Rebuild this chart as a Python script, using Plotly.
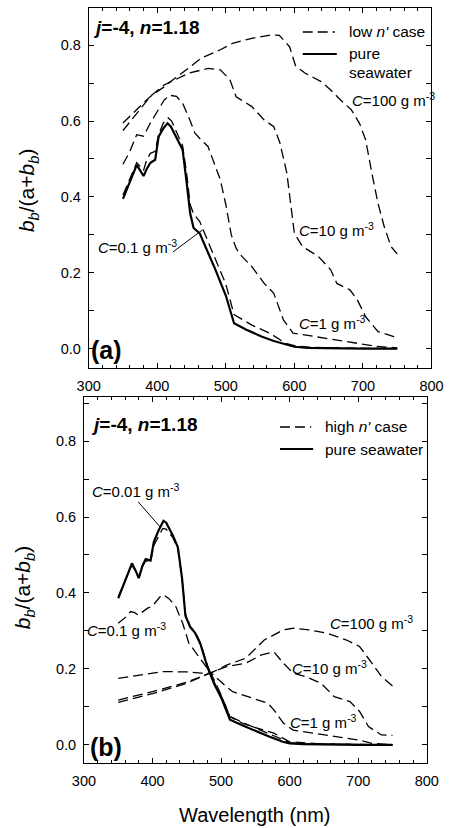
import plotly.graph_objects as go

# ---------------- data: panel (a) low n' case ----------------
a_sw_wl = [350,360,370,375,380,385,390,397,402,409,415,420,430,437,443,448,453,462,470,483,500,512,530,552,570,590,600,620,650,700,750]
a_sw_v  = [0.395,0.44,0.484,0.47,0.455,0.475,0.49,0.498,0.559,0.581,0.594,0.585,0.55,0.524,0.436,0.357,0.318,0.304,0.27,0.216,0.14,0.067,0.05,0.032,0.02,0.01,0.005,0.002,0.001,0.0,0.0]

a_c01_wl = [350,360,370,375,380,385,390,397,402,409,416,421,430,437,443,448,453,462,470,483,500,512,538,565,587,600,620,650,700,750]
a_c01_v  = [0.405,0.45,0.49,0.48,0.47,0.50,0.515,0.52,0.565,0.595,0.608,0.6,0.565,0.535,0.46,0.38,0.355,0.335,0.3,0.245,0.17,0.09,0.062,0.04,0.014,0.008,0.004,0.002,0.001,0.0]

a_c1_wl = [350,360,370,380,390,400,410,418,428,437,446,455,464,474,483,492,500,508,515,520,538,556,570,584,598,620,648,675,695,720,750]
a_c1_v  = [0.486,0.52,0.564,0.56,0.595,0.625,0.655,0.668,0.665,0.647,0.61,0.568,0.55,0.533,0.49,0.445,0.38,0.3,0.265,0.25,0.216,0.172,0.146,0.076,0.041,0.035,0.027,0.02,0.014,0.006,0.002]

a_c10_wl = [350,370,390,410,420,446,474,492,506,515,538,556,570,579,589,596,600,612,635,653,662,681,692,704,722,745,750]
a_c10_v  = [0.575,0.62,0.665,0.695,0.704,0.726,0.739,0.735,0.709,0.664,0.638,0.603,0.585,0.542,0.463,0.357,0.304,0.269,0.243,0.208,0.172,0.155,0.128,0.084,0.045,0.032,0.03]

a_c100_wl = [350,370,390,410,420,446,464,492,510,538,566,578,593,602,616,639,653,667,683,695,704,713,722,731,741,750]
a_c100_v  = [0.595,0.63,0.665,0.69,0.705,0.74,0.766,0.788,0.805,0.818,0.827,0.826,0.796,0.744,0.726,0.704,0.682,0.656,0.63,0.594,0.55,0.463,0.383,0.322,0.269,0.25]

# ---------------- data: panel (b) high n' case ----------------
b_sw_wl = [350,360,370,375,380,385,390,397,402,409,416,420,430,437,443,448,455,462,470,480,490,500,513,530,545,570,590,600,620,650,700,750]
b_sw_v  = [0.386,0.43,0.478,0.46,0.439,0.47,0.489,0.485,0.535,0.565,0.59,0.585,0.55,0.52,0.44,0.34,0.31,0.295,0.265,0.205,0.16,0.125,0.066,0.052,0.04,0.022,0.008,0.004,0.002,0.001,0.0,0.0]

b_c001_wl = [350,360,370,375,380,385,390,397,402,409,415,420,430,437,443,448,455,462,470,480,490,500,513,530,545,570,590,600,620,650,700,750]
b_c001_v  = [0.39,0.432,0.474,0.458,0.44,0.468,0.485,0.48,0.525,0.55,0.57,0.568,0.545,0.515,0.44,0.345,0.312,0.298,0.268,0.21,0.165,0.13,0.075,0.06,0.048,0.028,0.012,0.006,0.003,0.002,0.001,0.0]

b_c01_wl = [350,360,368,374,379,386,393,400,411,416,424,434,444,453,467,485,499,513,530,545,577,600,650,750]
b_c01_v  = [0.32,0.335,0.351,0.348,0.342,0.352,0.36,0.366,0.39,0.395,0.385,0.364,0.32,0.268,0.232,0.189,0.136,0.074,0.058,0.048,0.031,0.008,0.002,0.0]

b_c1_wl = [350,400,450,485,508,517,554,568,577,591,605,655,700,720,750]
b_c1_v  = [0.118,0.14,0.165,0.19,0.153,0.14,0.118,0.11,0.092,0.057,0.039,0.026,0.013,0.004,0.0]

b_c10_wl = [350,400,450,485,508,536,559,577,591,605,623,646,665,688,702,715,734,750]
b_c10_v  = [0.112,0.135,0.162,0.19,0.206,0.215,0.237,0.245,0.215,0.189,0.18,0.162,0.127,0.114,0.088,0.048,0.026,0.025]

b_c100_wl = [350,380,416,450,471,485,508,536,563,591,605,628,655,683,702,720,734,750]
b_c100_v  = [0.175,0.183,0.193,0.192,0.189,0.189,0.21,0.228,0.276,0.303,0.307,0.303,0.294,0.276,0.259,0.215,0.18,0.155]

x_ticks = [300, 400, 500, 600, 700, 800]
y_ticks = [0.0, 0.2, 0.4, 0.6, 0.8]

FONT = "Liberation Sans, Arial, sans-serif"
DASH = "10px,5px"

fig = go.Figure()

def dashed(x, y, xa, ya):
    fig.add_trace(go.Scatter(x=x, y=y, mode="lines", xaxis=xa, yaxis=ya,
                             line=dict(color="black", width=1.3, dash=DASH),
                             showlegend=False, hoverinfo="skip"))

def solid(x, y, xa, ya):
    fig.add_trace(go.Scatter(x=x, y=y, mode="lines", xaxis=xa, yaxis=ya,
                             line=dict(color="black", width=2.2),
                             showlegend=False, hoverinfo="skip"))

for wl, v in [(a_c01_wl, a_c01_v), (a_c1_wl, a_c1_v), (a_c10_wl, a_c10_v), (a_c100_wl, a_c100_v)]:
    dashed(wl, v, "x", "y")
solid(a_sw_wl, a_sw_v, "x", "y")

for wl, v in [(b_c001_wl, b_c001_v), (b_c01_wl, b_c01_v), (b_c1_wl, b_c1_v), (b_c10_wl, b_c10_v), (b_c100_wl, b_c100_v)]:
    dashed(wl, v, "x2", "y2")
solid(b_sw_wl, b_sw_v, "x2", "y2")

W, H = 452, 828

def px(xp):
    return xp / W

def py(yp):
    return 1 - yp / H

TICKFONT = dict(family=FONT, size=14.5, color="black")
xcommon = dict(range=[300, 800], tickvals=x_ticks, ticks="inside", ticklen=5, tickwidth=1,
               tickcolor="black", mirror="ticks", showline=True, linecolor="black", linewidth=1,
               showgrid=False, zeroline=False, ticklabelstandoff=5, tickfont=TICKFONT,
               minor=dict(dtick=20, ticks="inside", ticklen=3, tickcolor="black", showgrid=False))
ycommon = dict(tickvals=y_ticks, tickformat=".1f", ticks="inside", ticklen=5, tickwidth=1,
               tickcolor="black", mirror="ticks", showline=True, linecolor="black", linewidth=1,
               showgrid=False, zeroline=False, ticklabelstandoff=4, tickfont=TICKFONT,
               minor=dict(dtick=0.1, tick0=0, ticks="inside", ticklen=5, tickcolor="black", showgrid=False))

fig.update_layout(
    width=W, height=H, margin=dict(l=0, r=0, t=0, b=0),
    paper_bgcolor="white", plot_bgcolor="white", showlegend=False,
    xaxis=dict(domain=[px(81), px(443)], anchor="y", **xcommon),
    yaxis=dict(domain=[py(368), py(8)], anchor="x", range=[-0.051, 0.898], **ycommon),
    xaxis2=dict(domain=[px(76), px(438)], anchor="y2", **xcommon),
    yaxis2=dict(domain=[py(762.7), py(397)], anchor="x2", range=[-0.047, 0.916], **ycommon),
)

ann = []
def lab(text, x, y, xref, yref, size=15, bold=False, xanchor="left", angle=0):
    ann.append(dict(text=("<b>%s</b>" % text) if bold else text, x=x, y=y, xref=xref, yref=yref,
                    xanchor=xanchor, yanchor="middle", showarrow=False, textangle=angle,
                    borderpad=0, font=dict(family=FONT, size=size, color="black")))

sup = "<sup>-3</sup>"
# panel a labels
lab("<i>C</i>=100 g m" + sup, 683, 0.656, "x", "y")
lab("<i>C</i>=10 g m" + sup, 606, 0.313, "x", "y")
lab("<i>C</i>=1 g m" + sup, 605, 0.068, "x", "y")
lab("<i>C</i>=0.1 g m" + sup, 312, 0.268, "x", "y")
# panel b labels
lab("<i>C</i>=0.01 g m" + sup, 310, 0.671, "x2", "y2")
lab("<i>C</i>=0.1 g m" + sup, 303, 0.303, "x2", "y2")
lab("<i>C</i>=100 g m" + sup, 657, 0.321, "x2", "y2")
lab("<i>C</i>=10 g m" + sup, 602, 0.203, "x2", "y2")
lab("<i>C</i>=1 g m" + sup, 599, 0.061, "x2", "y2")

# panel headers
lab("<i>j</i>=-4, <i>n</i>=1.18", px(84), py(27), "paper", "paper", size=19, bold=True)
lab("<i>j</i>=-4, <i>n</i>=1.18", px(82), py(425), "paper", "paper", size=19, bold=True)
lab("(a)", px(82), py(350), "paper", "paper", size=25, bold=True)
lab("(b)", px(81), py(747), "paper", "paper", size=25, bold=True)

# legends text
lab("low <i>n'</i> case", px(355), py(32), "paper", "paper", size=15.5)
lab("pure", px(355), py(54), "paper", "paper", size=15.5)
lab("seawater", px(355), py(73), "paper", "paper", size=15.5)
lab("high <i>n'</i> case", px(330), py(427), "paper", "paper", size=15.5)
lab("pure seawater", px(330), py(449), "paper", "paper", size=15.5)

# axis titles
ytitle = "<i>b</i><sub><i>b</i></sub>/(a+<i>b</i><sub><i>b</i></sub>)"
lab(ytitle, px(17), py(190), "paper", "paper", size=21, xanchor="center", angle=-90)
lab(ytitle, px(13), py(587), "paper", "paper", size=21, xanchor="center", angle=-90)
lab("Wavelength (nm)", px(257), py(815), "paper", "paper", size=20, xanchor="center")

fig.update_layout(annotations=ann)

shapes = [
    # legend samples
    dict(type="line", xref="paper", yref="paper", x0=px(307), x1=px(341), y0=py(32), y1=py(32),
         line=dict(color="black", width=1.3, dash=DASH)),
    dict(type="line", xref="paper", yref="paper", x0=px(307), x1=px(343), y0=py(54), y1=py(54),
         line=dict(color="black", width=2.2)),
    dict(type="line", xref="paper", yref="paper", x0=px(283), x1=px(316), y0=py(427), y1=py(427),
         line=dict(color="black", width=1.3, dash=DASH)),
    dict(type="line", xref="paper", yref="paper", x0=px(283), x1=px(318), y0=py(449), y1=py(449),
         line=dict(color="black", width=2.2)),
    # leader lines
    dict(type="line", xref="x", yref="y", x0=423, y0=0.255, x1=466, y1=0.313,
         line=dict(color="black", width=1)),
    dict(type="line", xref="x2", yref="y2", x0=379, y0=0.640, x1=411, y1=0.574,
         line=dict(color="black", width=1)),
]
fig.update_layout(shapes=shapes)

fig.write_html("out.html")
